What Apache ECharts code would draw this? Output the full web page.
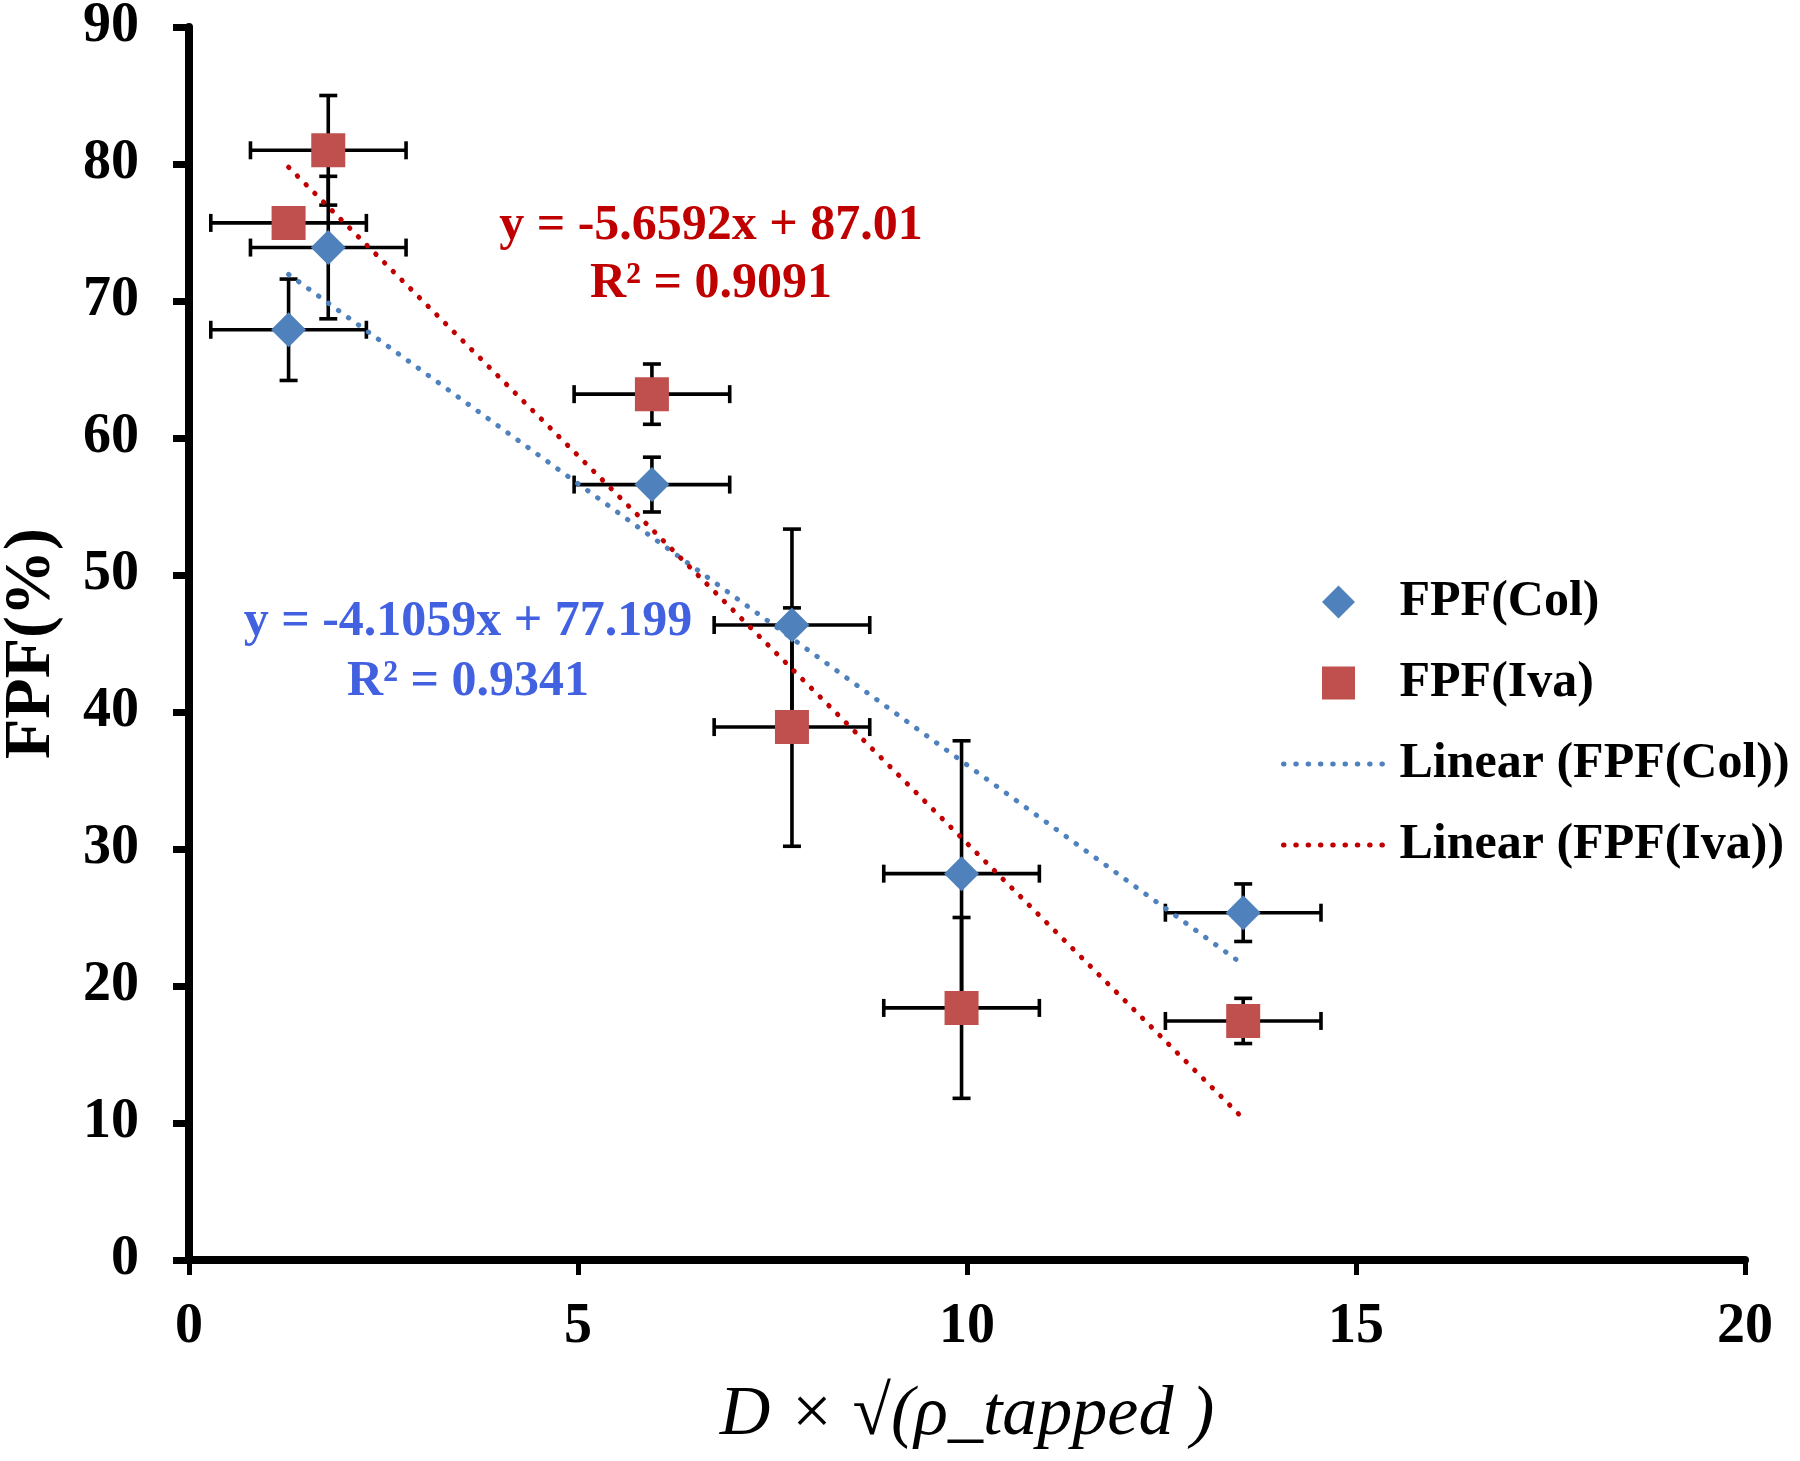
<!DOCTYPE html>
<html>
<head>
<meta charset="utf-8">
<script src="https://cdn.jsdelivr.net/npm/echarts@6/dist/echarts.min.js"></script>
<style>
html,body{margin:0;padding:0;background:#fff;}
#chart{width:1800px;height:1461px;}
</style>
</head>
<body>
<div id="chart"></div>
<script>
// ---- data ----
const xValues    = [1.28, 1.79, 5.95, 7.75, 9.93, 13.55];
const fpfCol     = [67.9, 73.9, 56.6, 46.35, 28.2, 25.35];
const fpfColErrY = [3.7, 5.2, 2.0, 7.0, 9.7, 2.1];
const fpfColErrX = [1.0, 1.0, 1.0, 1.0, 1.0, 1.0];
const fpfIva     = [75.7, 81.0, 63.2, 38.9, 18.4, 17.45];
const fpfIvaErrY = [1.0, 4.0, 2.2, 8.7, 6.6, 1.65];
const fpfIvaErrX = [1.0, 1.0, 1.0, 1.0, 1.0, 1.0];
const colFit = { slope: -4.1059, intercept: 77.199, r2: '0.9341' };
const ivaFit = { slope: -5.6592, intercept: 87.01,  r2: '0.9091' };
const xTicks = [0, 5, 10, 15, 20];
const yTicks = [0, 10, 20, 30, 40, 50, 60, 70, 80, 90];
const seriesNames = ['FPF(Col)', 'FPF(Iva)', 'Linear (FPF(Col))', 'Linear (FPF(Iva))'];

// ---- colours / fonts ----
const BLUE = '#4F81BD', RED = '#C0504D', RED_TREND = '#C00000', BLUE_TEXT = '#4161E1';
const SERIF = '"Liberation Serif", "Times New Roman", serif';

const pts = (ys) => xValues.map((x, i) => [x, ys[i]]);
const errPts = (ys, ex, ey) => xValues.map((x, i) => [x, ys[i], ex[i], ey[i]]);
const xMin = Math.min(...xValues), xMax = Math.max(...xValues);
const fitLine = (f) => [[xMin, f.slope * xMin + f.intercept], [xMax, f.slope * xMax + f.intercept]];

function renderErr(params, api) {
  const x = api.value(0), y = api.value(1), ex = api.value(2), ey = api.value(3);
  const c = api.coord([x, y]);
  const l = api.coord([x - ex, y]), r = api.coord([x + ex, y]);
  const t = api.coord([x, y + ey]), b = api.coord([x, y - ey]);
  const cap = 9;
  const style = { stroke: '#000', lineWidth: 3.6 };
  const line = (x1, y1, x2, y2) => ({ type: 'line', shape: { x1, y1, x2, y2 }, style });
  return {
    type: 'group',
    children: [
      line(l[0], c[1], r[0], c[1]),
      line(l[0], c[1] - cap, l[0], c[1] + cap),
      line(r[0], c[1] - cap, r[0], c[1] + cap),
      line(c[0], t[1], c[0], b[1]),
      line(c[0] - cap, t[1], c[0] + cap, t[1]),
      line(c[0] - cap, b[1], c[0] + cap, b[1])
    ]
  };
}

const dotStyle = (color) => ({ color, width: 5, type: [0.5, 11.8], cap: 'round' });
const axisText = { fontFamily: SERIF, fontWeight: 'bold', fontSize: 56, color: '#000' };
const eqText = (txt, x, y, color) => ({
  type: 'text', x, y, z: 100,
  style: { text: txt, fill: color, font: 'bold 50px ' + SERIF, textAlign: 'center', textVerticalAlign: 'middle' }
});
const DIAMOND_ICON = 'path://M10,0L20,10L10,20L0,10Z';
const SQUARE_ICON = 'path://M0,0L20,0L20,20L0,20Z';

const chart = echarts.init(document.getElementById('chart'), null, { renderer: 'canvas' });
chart.setOption({
  backgroundColor: '#fff',
  animation: false,
  grid: { left: 189, top: 27, width: 1556, height: 1233, containLabel: false, outerBoundsMode: 'none' },
  xAxis: {
    type: 'value', min: xTicks[0], max: xTicks[xTicks.length - 1], interval: 5,
    name: 'D × √(ρ_tapped )', nameLocation: 'middle', nameGap: 121,
    nameTextStyle: { fontFamily: SERIF, fontStyle: 'italic', fontSize: 70, color: '#000' },
    axisLine: { lineStyle: { color: '#000', width: 8 } },
    axisTick: { length: 15, lineStyle: { color: '#000', width: 5 } },
    axisLabel: Object.assign({ margin: 40 }, axisText),
    splitLine: { show: false }
  },
  yAxis: {
    type: 'value', min: yTicks[0], max: yTicks[yTicks.length - 1], interval: 10,
    name: 'FPF(%)', nameLocation: 'middle', nameGap: 124, nameRotate: 90,
    nameTextStyle: { fontFamily: SERIF, fontWeight: 'bold', fontSize: 66, color: '#000' },
    axisLine: { lineStyle: { color: '#000', width: 8 } },
    axisTick: { length: 16, lineStyle: { color: '#000', width: 7 } },
    axisLabel: Object.assign({ margin: 50 }, axisText),
    splitLine: { show: false }
  },
  legend: {
    orient: 'vertical', left: 1276, top: 572,
    itemWidth: 110, itemHeight: 33, itemGap: 31,
    symbolKeepAspect: true,
    textStyle: { fontFamily: SERIF, fontWeight: 'bold', fontSize: 50, color: '#000', padding: [0, 0, 0, 1] },
    data: [
      { name: seriesNames[0], icon: DIAMOND_ICON, symbolKeepAspect: true },
      { name: seriesNames[1], icon: SQUARE_ICON, symbolKeepAspect: true },
      { name: seriesNames[2], lineStyle: dotStyle(BLUE), itemStyle: { opacity: 0 } },
      { name: seriesNames[3], lineStyle: dotStyle(RED_TREND), itemStyle: { opacity: 0 } }
    ]
  },
  graphic: [
    eqText('y = -5.6592x + 87.01', 711, 226, RED_TREND),
    eqText('R² = ' + ivaFit.r2, 711, 284, RED_TREND),
    eqText('y = -4.1059x + 77.199', 468, 622, BLUE_TEXT),
    eqText('R² = ' + colFit.r2, 468, 682, BLUE_TEXT)
  ],
  series: [
    { type: 'custom', name: 'errCol', renderItem: renderErr, data: errPts(fpfCol, fpfColErrX, fpfColErrY),
      encode: { x: 0, y: 1 }, z: 2, silent: true },
    { type: 'custom', name: 'errIva', renderItem: renderErr, data: errPts(fpfIva, fpfIvaErrX, fpfIvaErrY),
      encode: { x: 0, y: 1 }, z: 2, silent: true },
    { type: 'scatter', name: seriesNames[0], data: pts(fpfCol), symbol: 'diamond', symbolSize: 35,
      itemStyle: { color: BLUE, opacity: 1 }, z: 3 },
    { type: 'scatter', name: seriesNames[1], data: pts(fpfIva), symbol: 'rect', symbolSize: 34,
      itemStyle: { color: RED, opacity: 1 }, z: 3 },
    { type: 'line', name: seriesNames[2], data: fitLine(colFit), symbol: 'none', showSymbol: false,
      lineStyle: dotStyle(BLUE), itemStyle: { color: BLUE }, z: 4 },
    { type: 'line', name: seriesNames[3], data: fitLine(ivaFit), symbol: 'none', showSymbol: false,
      lineStyle: dotStyle(RED_TREND), itemStyle: { color: RED_TREND }, z: 4 }
  ]
});
</script>
</body>
</html>
